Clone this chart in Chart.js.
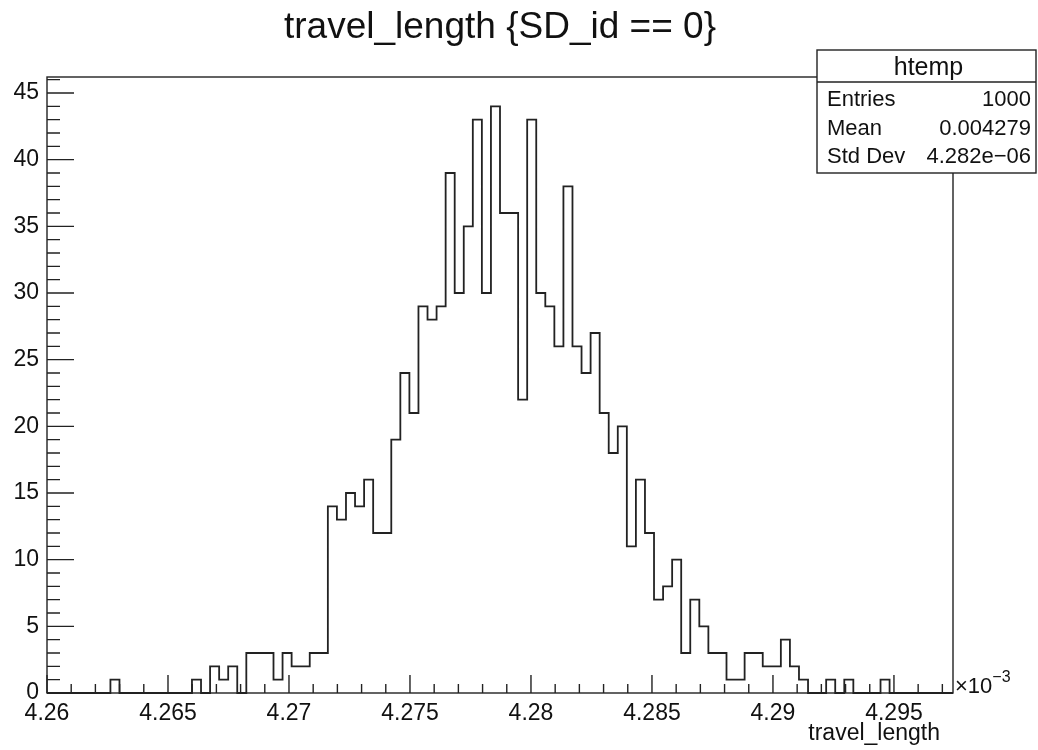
<!DOCTYPE html>
<html>
<head>
<meta charset="utf-8">
<script src="https://cdn.jsdelivr.net/npm/chart.js@4.4.1/dist/chart.umd.min.js"></script>
<style>
  body { margin: 0; background: #fff; }
</style>
</head>
<body>
<canvas id="histChart" width="1038" height="750"></canvas>
<script>
// travel_length axis is shown in units of 1e-3
const xMin = 4.26;
const xMax = 4.29744;
const nBins = 100;

// entries per bin (100 bins)
const counts = [
  0, 0, 0, 0, 0, 0, 0, 1, 0, 0,
  0, 0, 0, 0, 0, 0, 1, 0, 2, 1,
  2, 0, 3, 3, 3, 1, 3, 2, 2, 3,
  3, 14, 13, 15, 14, 16, 12, 12, 19, 24,
  21, 29, 28, 29, 39, 30, 35, 43, 30, 44,
  36, 36, 22, 43, 30, 29, 26, 38, 26, 24,
  27, 21, 18, 20, 11, 16, 12, 7, 8, 10,
  3, 7, 5, 3, 3, 1, 1, 3, 3, 2,
  2, 4, 2, 1, 0, 0, 1, 0, 1, 0,
  0, 0, 1, 0, 0, 0, 0, 0, 0, 0
];

const xTicks = [4.26, 4.265, 4.27, 4.275, 4.28, 4.285, 4.29, 4.295];
const xTickLabels = ['4.26', '4.265', '4.27', '4.275', '4.28', '4.285', '4.29', '4.295'];
const yTicks = [0, 5, 10, 15, 20, 25, 30, 35, 40, 45];
const yMax = 46.2;

const titleText = 'travel_length {SD_id == 0}';
const axisTitle = 'travel_length';
const statsName = 'htemp';
const statNames = ['Entries', 'Mean', 'Std Dev'];
const statValues = ['1000', '0.004279', '4.282e\u221206'];

const FONT = '"Liberation Sans", Arial, Helvetica, sans-serif';

// histogram outline: one point per bin edge, last edge repeats the last bin
const binWidth = (xMax - xMin) / nBins;
const points = [];
for (let i = 0; i <= nBins; i++) {
  points.push({ x: xMin + i * binWidth, y: counts[Math.min(i, nBins - 1)] });
}

// ROOT-style frame, inward ticks, title and stats box
const rootDecor = {
  id: 'rootDecor',
  afterDatasetsDraw(chart) {
    const { ctx, chartArea: a, scales: { x, y } } = chart;
    ctx.save();
    ctx.strokeStyle = '#222';
    ctx.lineWidth = 1.4;
    ctx.strokeRect(a.left, a.top, a.right - a.left, a.bottom - a.top);

    ctx.beginPath();
    for (let i = 0; ; i++) {
      const v = xMin + i * 0.001;
      if (v > xMax) break;
      const px = x.getPixelForValue(v);
      const len = i % 5 === 0 ? 18 : 9;
      ctx.moveTo(px, a.bottom);
      ctx.lineTo(px, a.bottom - len);
    }
    for (let k = 0; k < yMax; k++) {
      const py = y.getPixelForValue(k);
      const len = k % 5 === 0 ? 27 : 13;
      ctx.moveTo(a.left, py);
      ctx.lineTo(a.left + len, py);
    }
    ctx.stroke();

    ctx.fillStyle = '#111';
    ctx.font = '37px ' + FONT;
    ctx.textAlign = 'center';
    ctx.textBaseline = 'alphabetic';
    ctx.fillText(titleText, (a.left + a.right) / 2, 38);

    // exponent and axis title
    ctx.textAlign = 'left';
    ctx.font = '22px ' + FONT;
    ctx.fillText('\u00d710', a.right + 2, a.bottom);
    const w = ctx.measureText('\u00d710').width;
    ctx.font = '16px ' + FONT;
    ctx.fillText('\u22123', a.right + 2 + w, a.bottom - 11);
    ctx.textAlign = 'right';
    ctx.font = '23px ' + FONT;
    ctx.fillText(axisTitle, a.right - 13, 740);

    // stats box
    const bx = 817, by = 50, bw = 219, bh = 123;
    ctx.fillStyle = '#fff';
    ctx.fillRect(bx, by, bw, bh);
    ctx.strokeRect(bx, by, bw, bh);
    ctx.beginPath();
    ctx.moveTo(bx, by + 32);
    ctx.lineTo(bx + bw, by + 32);
    ctx.stroke();
    ctx.fillStyle = '#111';
    ctx.textAlign = 'center';
    ctx.font = '25px ' + FONT;
    ctx.fillText(statsName, bx + bw / 2 + 2, by + 25);
    ctx.font = '22px ' + FONT;
    const rows = [106, 135, 163];
    statNames.forEach((name, i) => {
      ctx.textAlign = 'left';
      ctx.fillText(name, bx + 10, rows[i]);
      ctx.textAlign = 'right';
      ctx.fillText(statValues[i], bx + bw - 5, rows[i]);
    });
    ctx.restore();
  }
};

new Chart(document.getElementById('histChart'), {
  type: 'line',
  data: {
    datasets: [{
      label: 'htemp',
      data: points,
      stepped: 'before',
      borderColor: '#222',
      borderWidth: 1.8,
      pointRadius: 0,
      fill: false,
      clip: false
    }]
  },
  options: {
    responsive: false,
    animation: false,
    devicePixelRatio: 1,
    layout: { padding: { top: 77, right: 85, left: 0, bottom: 0 } },
    plugins: {
      legend: { display: false },
      title: { display: false },
      tooltip: { enabled: false }
    },
    scales: {
      x: {
        type: 'linear',
        min: xMin,
        max: xMax,
        afterBuildTicks: s => { s.ticks = xTicks.map(v => ({ value: v })); },
        afterFit: s => { s.height = 57; },
        grid: { display: false, drawTicks: false },
        border: { display: false },
        ticks: {
          autoSkip: false,
          maxRotation: 0,
          padding: 7,
          color: '#111',
          font: { family: FONT, size: 23 },
          callback: (v, i) => xTickLabels[i]
        }
      },
      y: {
        min: 0,
        max: yMax,
        afterBuildTicks: s => { s.ticks = yTicks.map(v => ({ value: v })); },
        afterFit: s => { s.width = 47; },
        grid: { display: false, drawTicks: false },
        border: { display: false },
        ticks: {
          padding: 8,
          color: '#111',
          font: { family: FONT, size: 23 }
        }
      }
    }
  },
  plugins: [rootDecor]
});
</script>
</body>
</html>
